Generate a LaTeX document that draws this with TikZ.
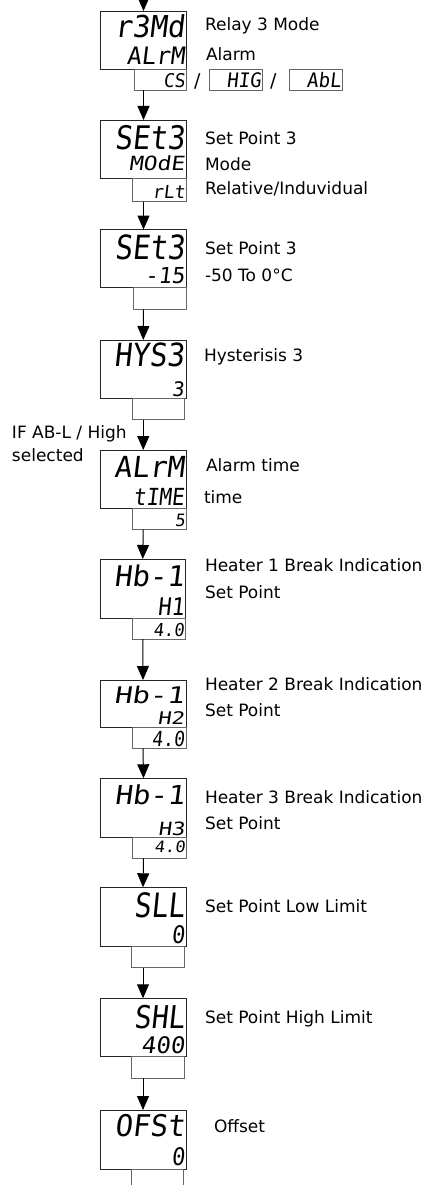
\documentclass[tikz,border=0pt]{standalone}
\usepackage{graphicx}
\usepackage{fontspec}
\setmainfont{DejaVu Sans}
\newfontfamily\segfont[FakeSlant=0.12]{DejaVu Sans Mono}
\usetikzlibrary{arrows.meta,fit}
\newcommand\sgt[3]{{\segfont\fontsize{#1}{#1}\selectfont\scalebox{1}[#2]{#3}}}
\tikzset{
  dbox/.style={draw=black!85, line width=0.9pt, inner sep=0pt, outer sep=0pt},
  sbox/.style={draw=black!60, line width=0.8pt, inner sep=0pt, outer sep=0pt},
  seg/.style={inner sep=0pt, outer sep=0pt, anchor=base east},
  lab/.style={font=\fontsize{17}{17}\selectfont, inner sep=0pt, outer sep=0pt, anchor=base west},
  arr/.style={-{Triangle[length=14pt,width=12pt]}, line width=1pt}
}
\begin{document}
\begin{tikzpicture}[x=1pt,y=-1pt]
\useasboundingbox (0,0) rectangle (430,1185);
\clip (0,0) rectangle (430,1185);

% ---- Stage A: r3Md
\node[dbox, fit={(100.5,11) (186.5,69)}] (A) {};
\node[sbox, fit={(134,69) (186.5,90)}] (As) {};
\node[sbox, fit={(209,69) (262.5,90)}] (Ah) {};
\node[sbox, fit={(289.5,69) (342.5,90)}] (Aa) {};
\node[seg] (A1) at (184.5,37.7) {\sgt{29}{1.04}{r3Md}};
\node[seg] (A2) at (184.5,65) {\sgt{24}{1.0}{ALrM}};
\node[seg] (As1) at (185,87.5) {\sgt{18}{1.05}{CS}};
\node[seg] (Ah1) at (261,87.5) {\sgt{19}{1.05}{HIG}};
\node[seg] (Aa1) at (341,87.5) {\sgt{19}{1.05}{AbL}};
\node[lab, font=\fontsize{19}{19}\selectfont] (sl1) at (194,87.5) {/};
\node[lab, font=\fontsize{19}{19}\selectfont] (sl2) at (270,87.5) {/};
\node[lab] (Al1) at (205,30.7) {Relay 3 Mode};
\node[lab] (Al2) at (206,61) {Alarm};

% ---- Stage B: SEt3 mode
\node[dbox, fit={(100.5,120) (186.5,178.3)}] (B) {};
\node[sbox, fit={(132,178.3) (186.5,201.5)}] (Bs) {};
\node[seg] (B1) at (184.5,150) {\sgt{29}{1.12}{SEt3}};
\node[seg] (B2) at (184.5,171) {\sgt{23}{0.85}{MOdE}};
\node[seg] (Bs1) at (185,199) {\sgt{18}{1.0}{rLt}};
\node[lab] (Bl1) at (205,145) {Set Point 3};
\node[lab] (Bl2) at (205,170.7) {Mode};
\node[lab] (Bl3) at (205,195) {Relative/Induvidual};

% ---- Stage C: SEt3 value
\node[dbox, fit={(100.5,229.5) (186.5,287.7)}] (C) {};
\node[sbox, fit={(133.5,287.7) (186.5,309.5)}] (Cs) {};
\node[seg] (C1) at (184.5,259) {\sgt{29}{1.15}{SEt3}};
\node[seg] (C2) at (184.5,283.3) {\sgt{22}{1.0}{-15}};
\node[lab] (Cl1) at (205,254) {Set Point 3};
\node[lab] (Cl2) at (205,281.7) {-50 To 0°C};

% ---- Stage D: HYS3
\node[dbox, fit={(100.5,340) (186,398.5)}] (D) {};
\node[sbox, fit={(132.5,398.5) (184,419.5)}] (Ds) {};
\node[seg] (D1) at (184,366.7) {\sgt{29}{1.1}{HYS3}};
\node[seg] (D2) at (184,396) {\sgt{20}{1}{3}};
\node[lab] (Dl1) at (204,361.7) {Hysterisis 3};
\node[lab] (Dc1) at (12,438.3) {IF AB-L / High};
\node[lab] (Dc2) at (12,461.7) {selected};

% ---- Stage E: ALrM time
\node[dbox, fit={(100.5,450) (186,508.3)}] (E) {};
\node[sbox, fit={(132.5,508.3) (186.5,529.5)}] (Es) {};
\node[seg] (E1) at (184,477.5) {\sgt{29}{1.0}{ALrM}};
\node[seg] (E2) at (184,505) {\sgt{21}{1.12}{tIME}};
\node[seg] (Es1) at (185,526.5) {\sgt{17}{1.0}{5}};
\node[lab] (El1) at (206,471.7) {Alarm time};
\node[lab] (El2) at (204,503.3) {time};

% ---- Stage F: Hb-1 H1
\node[dbox, fit={(100,559) (185.5,618.3)}] (F) {};
\node[sbox, fit={(132.7,618.3) (185.5,639)}] (Fs) {};
\node[seg] (F1) at (184,586.7) {\sgt{29}{0.98}{Hb-1}};
\node[seg] (F2) at (184,615) {\sgt{22}{1.1}{H1}};
\node[seg] (Fs1) at (184,636) {\sgt{17}{1.05}{4.0}};
\node[lab] (Fl1) at (205,571.7) {Heater 1 Break Indication};
\node[lab] (Fl2) at (205,598.3) {Set Point};

% ---- Stage G: Hb-1 H2
\node[dbox, fit={(100,680) (186,727.3)}] (G) {};
\node[sbox, fit={(132,727.3) (186,748.3)}] (Gs) {};
\node[seg] (G1) at (184,703.3) {\sgt{29}{0.79}{Hb-1}};
\node[seg] (G2) at (184,724.5) {\sgt{22}{0.79}{H2}};
\node[seg] (Gs1) at (184.5,746.3) {\sgt{18}{1.15}{4.0}};
\node[lab] (Gl1) at (205,690) {Heater 2 Break Indication};
\node[lab] (Gl2) at (205,716.7) {Set Point};

% ---- Stage H: Hb-1 H3
\node[dbox, fit={(100.5,778.3) (186.5,837.7)}] (H) {};
\node[sbox, fit={(132,837.7) (186.5,858.3)}] (Hs) {};
\node[seg] (H1) at (184.5,804) {\sgt{29}{0.9}{Hb-1}};
\node[seg] (H2) at (184.5,835) {\sgt{22}{0.83}{H3}};
\node[seg] (Hs1) at (185,852.5) {\sgt{17}{0.92}{4.0}};
\node[lab] (Hl1) at (205,803.3) {Heater 3 Break Indication};
\node[lab] (Hl2) at (205,829.3) {Set Point};

% ---- Stage I: SLL
\node[dbox, fit={(100,887.3) (186,946)}] (I) {};
\node[sbox, fit={(131.7,946) (184,967.7)}] (Is) {};
\node[seg] (I1) at (184.5,917) {\sgt{28}{1.2}{SLL}};
\node[seg] (I2) at (184.5,943.3) {\sgt{22}{1.1}{0}};
\node[lab] (Il1) at (205,912.7) {Set Point Low Limit};

% ---- Stage J: SHL
\node[dbox, fit={(100,998.3) (186,1056.7)}] (J) {};
\node[sbox, fit={(131.7,1056.7) (184,1078.3)}] (Js) {};
\node[seg] (J1) at (184.5,1028.3) {\sgt{28}{1.12}{SHL}};
\node[seg] (J2) at (184.5,1053.3) {\sgt{24}{0.95}{400}};
\node[lab] (Jl1) at (205,1023.3) {Set Point High Limit};

% ---- Stage K: OFSt
\node[dbox, fit={(100,1110) (186,1169.3)}] (K) {};
\node[sbox, fit={(131.7,1169.3) (183.3,1200)}] (Ks) {};
\node[seg] (K1) at (184.5,1136.7) {\sgt{29}{1.03}{OFSt}};
\node[seg] (K2) at (184.5,1165) {\sgt{22}{1.1}{0}};
\node[lab] (Kl1) at (214,1132.7) {Offset};

% ---- connectors
\coordinate (top0) at (143.5,0);
\draw[arr] (top0) -- (A.north);
\draw[arr] (A.south |- As.south) -- (B.north);
\draw[arr] (B.south |- Bs.south) -- (C.north);
\draw[arr] (C.south |- Cs.south) -- (D.north);
\draw[arr] (D.south |- Ds.south) -- (E.north);
\draw[arr] (E.south |- Es.south) -- (F.north);
\draw[arr] (F.south |- Fs.south) -- (G.north);
\draw[arr] (G.south |- Gs.south) -- (H.north);
\draw[arr] (H.south |- Hs.south) -- (I.north);
\draw[arr] (I.south |- Is.south) -- (J.north);
\draw[arr] (J.south |- Js.south) -- (K.north);
\end{tikzpicture}
\end{document}
